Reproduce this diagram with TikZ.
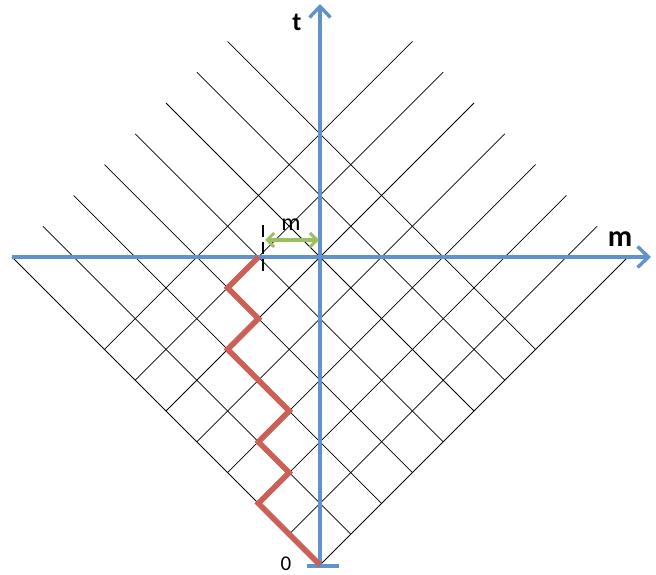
\documentclass[tikz,border=0pt]{standalone}
\usepackage{fontspec}
\setmainfont{Carlito}
\usetikzlibrary{arrows.meta,calc}
\definecolor{axisblue}{RGB}{96,146,204}
\definecolor{pathred}{RGB}{205,96,86}
\definecolor{mgreen}{RGB}{155,191,96}
\tikzset{
  gridline/.style={black, line width=0.75pt},
  axisline/.style={axisblue, line width=3.6pt},
  axisarrow/.style={axisline, -{Straight Barb[length=11pt,width=21pt,line width=3.4pt]}},
  walk/.style={pathred, line width=5.5pt, line join=miter},
  lbl/.style={inner sep=0pt, font=\bfseries\fontsize{30}{30}\selectfont}
}
\begin{document}
\begin{tikzpicture}[x=1pt,y=-1pt]
\useasboundingbox (0,0) rectangle (656,575);
\def\s{30.8}
\coordinate (O) at (320,565);
% grid
\foreach \k in {0,2,...,14}{
  \draw[gridline] ($(O)+(-\k/2*\s,-\k/2*\s)$) -- ($(O)+({(20-\k)/2*\s},{-(20+\k)/2*\s})$);
  \draw[gridline] ($(O)+(\k/2*\s,-\k/2*\s)$) -- ($(O)+({-(20-\k)/2*\s},{-(20+\k)/2*\s})$);
}
% axes
\coordinate (hl) at (12,257);
\coordinate (hr) at (651,257);
\coordinate (vb) at (320,566);
\coordinate (vt) at (320,4);
\coordinate (tl) at (307,566);
\coordinate (tr) at (339,566);
\draw[axisline] (tl) -- (tr);
\draw[axisarrow] (hl) -- (hr);
\draw[axisarrow] (vb) -- (vt);
% walk (with soft shadow)
\draw[walk, draw=black, opacity=0.15, shift={(1.5,1.5)}] (O)
  -- ++(-2*\s,-2*\s) -- ++(\s,-\s) -- ++(-\s,-\s) -- ++(\s,-\s)
  -- ++(-2*\s,-2*\s) -- ++(\s,-\s) -- ++(-\s,-\s) -- ++(\s,-\s);
\draw[walk] (O)
  -- ++(-2*\s,-2*\s) -- ++(\s,-\s) -- ++(-\s,-\s) -- ++(\s,-\s)
  -- ++(-2*\s,-2*\s) -- ++(\s,-\s) -- ++(-\s,-\s) -- ++(\s,-\s) coordinate (W);
% tick and m arrow
\coordinate (d1) at (263,225);
\coordinate (d2) at (263,271);
\draw[black, line width=2.8pt, dash pattern=on 12pt off 5pt] (d1) -- (d2);
\coordinate (g1) at (265,240);
\coordinate (g2) at (319,240);
\draw[mgreen, line width=3.2pt, {Straight Barb[length=7pt,width=14pt,line width=3pt]}-{Straight Barb[length=7pt,width=14pt,line width=3pt]}] (g1) -- (g2);
% labels
\node[inner sep=0pt, font=\bfseries\fontsize{26}{26}\selectfont] (tlab) at (297,22) {t};
\node[lbl] (mlab) at (620,239) {m};
\node[inner sep=0pt, font=\fontsize{21}{21}\selectfont] (zero) at (286,564) {0};
\node[inner sep=0pt, font=\fontsize{24}{24}\selectfont] (msmall) at (291,225) {m};
\end{tikzpicture}
\end{document}
